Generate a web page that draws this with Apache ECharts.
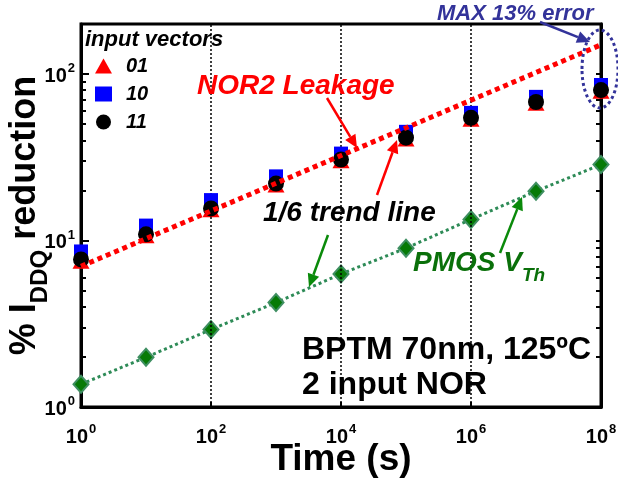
<!DOCTYPE html>
<html>
<head>
<meta charset="utf-8">
<script src="https://cdn.jsdelivr.net/npm/echarts@6/dist/echarts.min.js"></script>
<style>
html,body{margin:0;padding:0;background:#fff;}
#chart{width:618px;height:480px;}
</style>
</head>
<body>
<div id="chart"></div>
<script>
// ---- data ----
var times = [1, 10, 100, 1e3, 1e4, 1e5, 1e6, 1e7, 1e8];
var vec01 = [7.5, 10.7, 15.3, 21.6, 30.2, 40.8, 53.6, 66.8, 78.8];
var vec10 = [8.6, 12.3, 17.5, 24.3, 33.3, 45.0, 58.5, 73.0, 86.0];
var vec11 = [7.7, 10.9, 15.6, 22.0, 30.7, 41.5, 54.6, 68.0, 80.2];
var pmosVth = [1.37, 1.99, 2.92, 4.24, 6.3, 9.0, 13.4, 19.8, 28.6];
var trendTimes = [1, 1e8];
var trendValues = [7.0, 150];
var gridTimes = [1e2, 1e4, 1e6];
var xLabelValues = [1, 1e2, 1e4, 1e6, 1e8];
var yLabelValues = [1, 10, 100];
var yMinorValues = [2,3,4,5,6,7,8,9,20,30,40,50,60,70,80,90,200];
var yAllTickValues = [1,2,3,4,5,6,7,8,9,10,20,30,40,50,60,70,80,90,100,200];

function pairs(xs, ys) { return xs.map(function (x, i) { return [x, ys[i]]; }); }
function expOf(v) { return Math.round(Math.log(v) / Math.LN10); }

var FONT = '"Liberation Sans", Arial, sans-serif';

function arrow(x1, y1, x2, y2, color, w) {
  var ang = Math.atan2(y2 - y1, x2 - x1);
  var L = 13, W = 6;
  var bx = x2 - L * Math.cos(ang), by = y2 - L * Math.sin(ang);
  var px = -Math.sin(ang) * W, py = Math.cos(ang) * W;
  return [
    { type: 'line', shape: { x1: x1, y1: y1, x2: bx, y2: by }, style: { stroke: color, lineWidth: w }, z: 50 },
    { type: 'polygon', shape: { points: [[x2, y2], [bx + px, by + py], [bx - px, by - py]] }, style: { fill: color }, z: 50 }
  ];
}

var supRich = {
  b: { fontFamily: FONT, fontWeight: 'bold', fontSize: 20, color: '#000', verticalAlign: 'bottom' },
  s: { fontFamily: FONT, fontWeight: 'bold', fontSize: 13, color: '#000', verticalAlign: 'bottom', padding: [0, 0, 11, 1] }
};

var graphics = [
  { type: 'text', left: 85, top: 29, style: { text: 'input vectors', font: 'italic bold 22px ' + FONT, fill: '#000' }, z: 60 },
  { type: 'text', x: 197, y: 86, style: { text: 'NOR2 Leakage', font: 'italic bold 28px ' + FONT, fill: '#ff0000', textVerticalAlign: 'middle' }, z: 60 },
  { type: 'text', x: 263, y: 213, style: { text: '1/6 trend line', font: 'italic bold 28px ' + FONT, fill: '#000', textVerticalAlign: 'middle' }, z: 60 },
  { type: 'text', x: 413, y: 267, style: {
      text: '{m|PMOS V}{s|Th}', textVerticalAlign: 'middle',
      rich: {
        m: { fontFamily: FONT, fontStyle: 'italic', fontWeight: 'bold', fontSize: 28, fill: '#0a700a', verticalAlign: 'bottom', padding: [0, 0, 8, 0] },
        s: { fontFamily: FONT, fontStyle: 'italic', fontWeight: 'bold', fontSize: 19, fill: '#0a700a', verticalAlign: 'bottom' }
      } }, z: 60 },
  { type: 'text', x: 437, y: 14, style: { text: 'MAX 13% error', font: 'italic bold 22px ' + FONT, fill: '#33339a', textVerticalAlign: 'middle' }, z: 60 },
  { type: 'text', x: 302, y: 350, style: { text: 'BPTM 70nm, 125ºC', font: 'bold 32px ' + FONT, fill: '#000', textVerticalAlign: 'middle' }, z: 60 },
  { type: 'text', x: 302, y: 385, style: { text: '2 input NOR', font: 'bold 32px ' + FONT, fill: '#000', textVerticalAlign: 'middle' }, z: 60 },
  { type: 'ellipse', shape: { cx: 600, cy: 69, rx: 18, ry: 39 }, style: { fill: 'none', stroke: '#33339a', lineWidth: 3, lineDash: [3, 3] }, z: 55 }
];
graphics = graphics
  .concat(arrow(327, 98, 357, 148, '#ff0000', 2.5))
  .concat(arrow(377, 195, 397, 140, '#ff0000', 2.5))
  .concat(arrow(328, 235, 309, 287, '#0a8a0a', 2.5))
  .concat(arrow(500, 253, 522, 197, '#0a8a0a', 2.5))
  .concat(arrow(540, 22, 590, 42, '#33339a', 2.5));

var chart = echarts.init(document.getElementById('chart'));
chart.setOption({
  animation: false,
  backgroundColor: '#fff',
  grid: { left: 81, right: 17, top: 24, bottom: 73, show: true, borderColor: '#000', borderWidth: 3, backgroundColor: 'transparent', containLabel: false, outerBoundsMode: 'none' },
  legend: {
    data: ['01', '10', '11'],
    orient: 'vertical',
    left: 90, top: 51,
    itemWidth: 17, itemHeight: 15, itemGap: 8,
    textStyle: { fontFamily: FONT, fontStyle: 'italic', fontWeight: 'bold', fontSize: 20, color: '#000', padding: [0, 0, 0, 9] },
    selectedMode: false
  },
  xAxis: [{
    type: 'log', min: 1, max: 1e8, logBase: 10,
    name: 'Time (s)', nameLocation: 'middle', nameGap: 34, nameMoveOverlap: false,
    nameTextStyle: { fontFamily: FONT, fontWeight: 'bold', fontSize: 37, color: '#000' },
    axisLine: { show: true, lineStyle: { color: '#000', width: 3 } },
    axisTick: { show: true, inside: true, length: 5, customValues: xLabelValues, lineStyle: { color: '#000', width: 2 } },
    axisLabel: {
      show: true, margin: 16, customValues: xLabelValues,
      formatter: function (v) { return '{b|10}{s|' + expOf(v) + '}'; },
      rich: supRich
    },
    splitLine: { show: false }, minorTick: { show: false }
  }],
  yAxis: [{
    type: 'log', min: 1, max: 200, logBase: 10,
    name: '{m|% I}{s|DDQ}{m| reduction}', nameLocation: 'middle', nameGap: 29, nameRotate: 90, nameMoveOverlap: false,
    nameTextStyle: {
      rich: {
        m: { fontFamily: FONT, fontWeight: 'bold', fontSize: 36, color: '#000', verticalAlign: 'bottom', padding: [0, 0, 9, 0] },
        s: { fontFamily: FONT, fontWeight: 'bold', fontSize: 24, color: '#000', verticalAlign: 'bottom' }
      }
    },
    axisLine: { show: true, lineStyle: { color: '#000', width: 3 } },
    axisTick: { show: true, inside: true, length: 8, customValues: yLabelValues, lineStyle: { color: '#000', width: 2 } },
    axisLabel: {
      show: true, margin: 6, customValues: yLabelValues,
      formatter: function (v) { return '{b|10}{s|' + expOf(v) + '}'; },
      rich: supRich
    },
    splitLine: { show: false }
  }, {
    type: 'log', min: 1, max: 200, logBase: 10, position: 'left',
    axisLine: { show: false },
    axisTick: { show: true, inside: true, length: 5, customValues: yMinorValues, lineStyle: { color: '#000', width: 2 } },
    axisLabel: { show: false }, splitLine: { show: false }
  }, {
    type: 'log', min: 1, max: 200, logBase: 10, position: 'right',
    axisLine: { show: true, lineStyle: { color: '#000', width: 3 } },
    axisTick: { show: true, inside: true, length: 5, customValues: yAllTickValues, lineStyle: { color: '#000', width: 2 } },
    axisLabel: { show: false }, splitLine: { show: false }
  }],
  series: [
    {
      name: 'grid', type: 'line', data: [], z: 1, silent: true,
      markLine: {
        silent: true, symbol: 'none', label: { show: false },
        lineStyle: { color: '#000', width: 1.5, type: [2, 2] },
        data: gridTimes.map(function (t) { return { xAxis: t }; })
      }
    },
    {
      name: 'PMOS Vth', type: 'line', data: pairs(times, pmosVth), z: 3,
      symbol: 'diamond', symbolSize: [15, 17],
      itemStyle: { color: '#067a06', borderColor: '#3f8f62', borderWidth: 2 },
      lineStyle: { color: '#2e8b57', width: 3, type: [3, 3] }
    },
    {
      name: '01', type: 'scatter', data: pairs(times, vec01), z: 4,
      symbol: 'triangle', symbolSize: [17, 15], itemStyle: { color: '#ff0000', opacity: 1 }
    },
    {
      name: '10', type: 'scatter', data: pairs(times, vec10), z: 5,
      symbol: 'rect', symbolSize: 14, itemStyle: { color: '#0000ff', opacity: 1 }
    },
    {
      name: '11', type: 'scatter', data: pairs(times, vec11), z: 6,
      symbol: 'circle', symbolSize: 16, itemStyle: { color: '#000', opacity: 1 }
    },
    {
      name: 'NOR2 trend', type: 'line', data: pairs(trendTimes, trendValues), z: 7,
      symbol: 'none', lineStyle: { color: '#ff0000', width: 5, type: [5, 4] }
    }
  ],
  graphic: graphics
});
</script>
</body>
</html>
